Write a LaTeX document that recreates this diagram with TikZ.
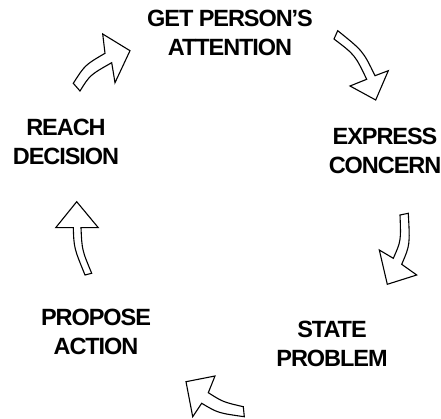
\documentclass[tikz,border=0pt]{standalone}
\usepackage{fontspec}
\setmainfont{Liberation Sans}[LetterSpace=-4.5]
\begin{document}
\begin{tikzpicture}[x=1pt,y=-1pt,
  lbl/.style={inner sep=0pt, align=center, font=\bfseries\fontsize{23.5}{28.5}\selectfont},
  blockarrow/.style={draw=black, fill=white, line width=1.1pt, line join=miter}]
\useasboundingbox (0,0) rectangle (441,419);

% labels
\node[lbl] (get) at (230,33) {GET PERSON’S\\ATTENTION};
\node[lbl] (express) at (385,151) {EXPRESS\\CONCERN};
\node[lbl] (state) at (332,344) {STATE\\PROBLEM};
\node[lbl] (propose) at (96,332) {PROPOSE\\ACTION};
\node[lbl] (reach) at (66,142) {REACH\\DECISION};

% top-right arrow (get -> express)
\draw[blockarrow] (337.7,30.7) .. controls (363,51) .. (375,75.7)
  -- (388.3,70.7) -- (375.7,100) -- (350,86) -- (366.7,79.3)
  .. controls (355,55) .. (334,39) -- cycle;

% right arrow (express -> state)
\draw[blockarrow] (408.3,213.3) .. controls (410,245) .. (401.7,264.3)
  -- (416.7,275) -- (387.3,284.3) -- (379.3,250) -- (393.3,258.3)
  .. controls (401,241) .. (400,215) -- cycle;

% bottom arrow (state -> propose)
\draw[blockarrow] (244.3,416.7) .. controls (218,413) .. (201.7,403.3)
  -- (192.7,416.7) -- (186,381.7) -- (215,376) -- (208.3,392.7)
  .. controls (223,402) .. (243.3,406.7) -- cycle;

% left arrow (propose -> reach)
\draw[blockarrow] (91.7,273.3) .. controls (82,250) .. (81,227.7)
  -- (98.3,227.7) -- (76.7,201.7) -- (55.7,227.7) -- (73.3,227.7)
  .. controls (74,248) .. (85,275) -- cycle;

% top-left arrow (reach -> get)
\draw[blockarrow] (80,91) .. controls (90,75) .. (111.7,62.7)
  -- (115,82.7) -- (130,50.7) -- (102.7,34) -- (105,53.3)
  .. controls (85,65) .. (73.3,83.3) -- cycle;
\end{tikzpicture}
\end{document}
